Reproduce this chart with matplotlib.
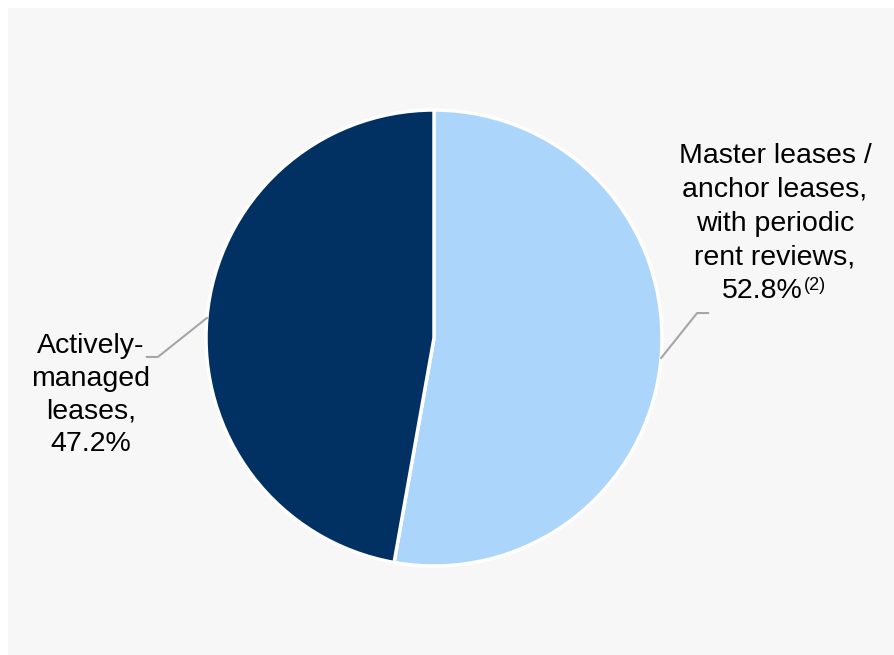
import numpy as np
import matplotlib
matplotlib.use("Agg")
import matplotlib.pyplot as plt
from matplotlib.patches import Rectangle

plt.rcParams['font.family'] = ['Liberation Sans', 'DejaVu Sans']

right_lines = ["Master leases /", "anchor leases,", "with periodic", "rent reviews,"]
left_lines = ["Actively-", "managed", "leases,"]
values = [52.8, 47.2]
colors = ["#acd5fc", "#003162"]
footnote = "(2)"

W, H = 894, 655
fig = plt.figure(figsize=(W / 100, H / 100), dpi=100)
fig.patch.set_facecolor("white")
ax = fig.add_axes([0, 0, 1, 1])

ax.add_patch(Rectangle((8, 0), W - 8, H - 8, facecolor="#f7f7f7", edgecolor="none", zorder=0))

cx, cy, r = 434, H - 338, 228
wedges, _ = ax.pie(values, colors=colors, startangle=90, counterclock=False,
                   center=(cx, cy), radius=r, frame=True,
                   wedgeprops=dict(edgecolor="white", linewidth=2.5))
ax.set_xlim(0, W)
ax.set_ylim(0, H)
ax.set_aspect("equal")
ax.axis("off")

fs = 20.5
lc = "#a6a6a6"
# right label
w = wedges[0]
ang = np.deg2rad((w.theta1 + w.theta2) / 2)
px, py = cx + r * np.cos(ang), cy + r * np.sin(ang)
ex, ey = px + 36, py + 45
ax.plot([px, ex, ex + 11], [py, ey, ey], color=lc, lw=1.5, zorder=3)
step = 33.8
for i, line in enumerate(right_lines):
    ax.text(775, H - (163 + i * step), line, ha="center", va="baseline", fontsize=fs, color="black")
ax.text(803, H - (163 + 4 * step), f"{values[0]}%", ha="right", va="baseline", fontsize=fs, color="black")
ax.text(804, H - 290, footnote, ha="left", va="baseline", fontsize=13, color="black")

# left label
w = wedges[1]
ang = np.deg2rad((w.theta1 + w.theta2) / 2)
px, py = cx + r * np.cos(ang), cy + r * np.sin(ang)
ex, ey = px - 49, py - 39
ax.plot([px, ex, ex - 11], [py, ey, ey], color=lc, lw=1.5, zorder=3)
for i, line in enumerate(left_lines + [f"{values[1]}%"]):
    ax.text(91, H - (353 + i * 32.7), line, ha="center", va="baseline", fontsize=fs, color="black")

fig.savefig("out.png", dpi=100, facecolor="white")
